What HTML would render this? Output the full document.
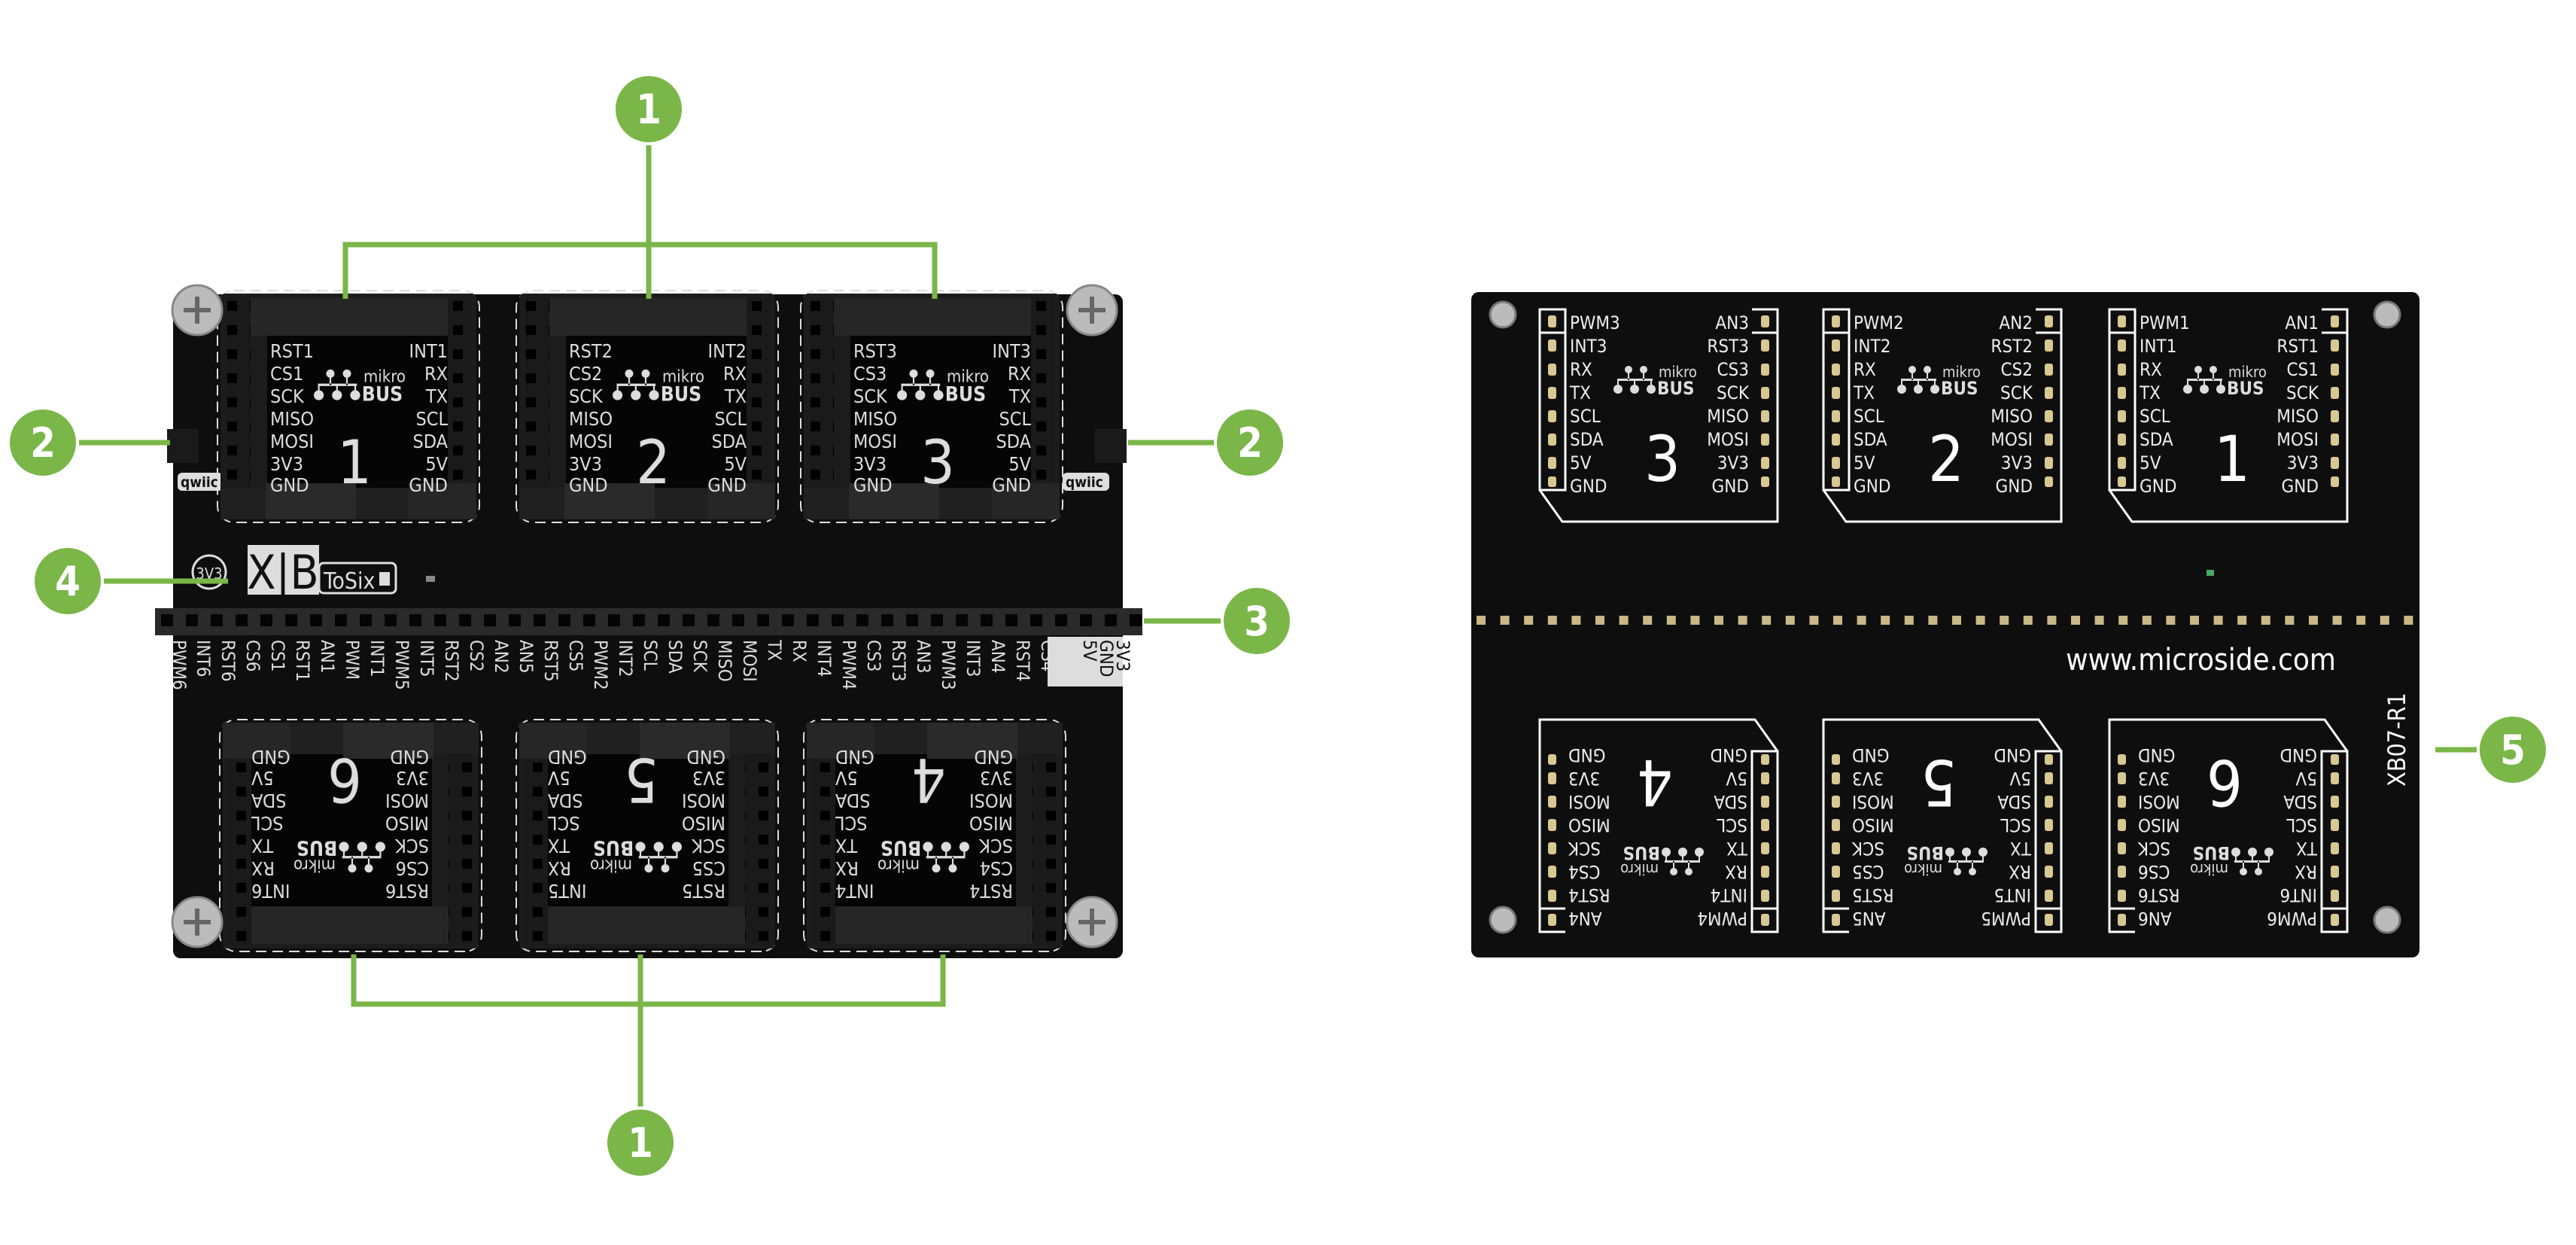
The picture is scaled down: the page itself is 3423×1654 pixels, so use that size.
<!DOCTYPE html>
<html><head><meta charset="utf-8"><style>
html,body{margin:0;padding:0;background:#fff;}
svg{display:block}
text{font-family:"DejaVu Sans Condensed","Liberation Sans Narrow","Liberation Sans",sans-serif;}
</style></head><body>
<svg width="3423" height="1654" viewBox="0 0 3423 1654" xmlns="http://www.w3.org/2000/svg">
<defs>
<pattern id="pinsL" x="0" y="0" width="30" height="32" patternUnits="userSpaceOnUse">
<rect width="30" height="32" fill="#1a1a1a"/><rect x="9" y="10" width="13" height="13" fill="#000"/>
</pattern>
<g id="sockBase">
<rect x="-4" y="-4" width="348" height="308" rx="22" fill="none" stroke="#ddd" stroke-width="2" stroke-dasharray="14 8"/>
<rect x="0" y="0" width="340" height="300" rx="6" fill="#1c1c1c"/>
<rect x="8" y="4" width="32" height="256" fill="url(#pinsL)"/>
<rect x="302" y="4" width="32" height="256" fill="url(#pinsL)"/>
<rect x="40" y="6" width="262" height="50" fill="#262626"/>
<rect x="62" y="56" width="240" height="210" fill="#050505"/>
<rect x="0" y="258" width="340" height="42" fill="#202020"/>
<rect x="60" y="252" width="120" height="48" fill="#2a2a2a"/>
<rect x="250" y="252" width="90" height="48" fill="#262626"/>
</g>
<g id="logo" fill="#ddd">
<circle cx="20" cy="4" r="5"/><circle cx="40" cy="4" r="5"/>
<circle cx="6" cy="30" r="6"/><circle cx="28" cy="30" r="6"/><circle cx="50" cy="30" r="6"/>
<path d="M19 4v14h2V4zM39 4v14h2V4zM5 16h47v3H5zM5 16h2v14H5zM27 16h2v14h-2zM49 16h2v14h-2z"/>
<text x="60" y="14" font-family="Liberation Sans,sans-serif" font-size="20" fill="#ddd">mikro</text>
<text x="58" y="37" font-family="Liberation Sans,sans-serif" font-size="24" font-weight="bold" fill="#ddd">BUS</text>
</g>
<g id="modOutline">
<path d="M0 0H34V240H0Z M282 0H316V282H30L0 240" fill="none" stroke="#fff" stroke-width="3"/>
<line x1="0" y1="31" x2="34" y2="31" stroke="#fff" stroke-width="3"/>
<line x1="282" y1="31" x2="316" y2="31" stroke="#fff" stroke-width="3"/>
<g fill="#d8c892">
<rect x="11" y="8" width="11" height="16" rx="3"/><rect x="11" y="40" width="11" height="16" rx="3"/><rect x="11" y="72" width="11" height="16" rx="3"/><rect x="11" y="103" width="11" height="16" rx="3"/><rect x="11" y="134" width="11" height="16" rx="3"/><rect x="11" y="165" width="11" height="16" rx="3"/><rect x="11" y="196" width="11" height="16" rx="3"/><rect x="11" y="222" width="11" height="14" rx="3"/>
<rect x="294" y="8" width="11" height="16" rx="3"/><rect x="294" y="40" width="11" height="16" rx="3"/><rect x="294" y="72" width="11" height="16" rx="3"/><rect x="294" y="103" width="11" height="16" rx="3"/><rect x="294" y="134" width="11" height="16" rx="3"/><rect x="294" y="165" width="11" height="16" rx="3"/><rect x="294" y="196" width="11" height="16" rx="3"/><rect x="294" y="222" width="11" height="14" rx="3"/>
</g>
</g>
</defs>

<rect x="230" y="391" width="1262" height="882" rx="10" fill="#0e0e0e"/>
<rect x="222" y="570" width="42" height="45" fill="#1a1a1a"/><rect x="236" y="628" width="60" height="24" rx="6" fill="#ddd"/>
<text x="240" y="647" font-size="19" font-weight="bold" fill="#111">qwiic</text>
<rect x="1455" y="570" width="42" height="45" fill="#1a1a1a"/><rect x="1412" y="628" width="62" height="24" rx="6" fill="#ddd"/>
<text x="1416" y="647" font-size="19" font-weight="bold" fill="#111">qwiic</text>

<g transform="translate(293,390)"><use href="#sockBase"/>
<g font-size="25" fill="#ddd"><text x="66" y="85">RST1</text><text x="66" y="115">CS1</text><text x="66" y="145">SCK</text><text x="66" y="175">MISO</text><text x="66" y="205">MOSI</text><text x="66" y="235">3V3</text><text x="66" y="263">GND</text>
<g text-anchor="end"><text x="302" y="85">INT1</text><text x="302" y="115">RX</text><text x="302" y="145">TX</text><text x="302" y="175">SCL</text><text x="302" y="205">SDA</text><text x="302" y="235">5V</text><text x="302" y="263">GND</text></g></g>
<use href="#logo" transform="translate(124,102) scale(1.1)"/><text x="178" y="252" font-size="80" fill="#ddd" text-anchor="middle">1</text></g>

<g transform="translate(690,390)"><use href="#sockBase"/>
<g font-size="25" fill="#ddd"><text x="66" y="85">RST2</text><text x="66" y="115">CS2</text><text x="66" y="145">SCK</text><text x="66" y="175">MISO</text><text x="66" y="205">MOSI</text><text x="66" y="235">3V3</text><text x="66" y="263">GND</text>
<g text-anchor="end"><text x="302" y="85">INT2</text><text x="302" y="115">RX</text><text x="302" y="145">TX</text><text x="302" y="175">SCL</text><text x="302" y="205">SDA</text><text x="302" y="235">5V</text><text x="302" y="263">GND</text></g></g>
<use href="#logo" transform="translate(124,102) scale(1.1)"/><text x="178" y="252" font-size="80" fill="#ddd" text-anchor="middle">2</text></g>

<g transform="translate(1068,390)"><use href="#sockBase"/>
<g font-size="25" fill="#ddd"><text x="66" y="85">RST3</text><text x="66" y="115">CS3</text><text x="66" y="145">SCK</text><text x="66" y="175">MISO</text><text x="66" y="205">MOSI</text><text x="66" y="235">3V3</text><text x="66" y="263">GND</text>
<g text-anchor="end"><text x="302" y="85">INT3</text><text x="302" y="115">RX</text><text x="302" y="145">TX</text><text x="302" y="175">SCL</text><text x="302" y="205">SDA</text><text x="302" y="235">5V</text><text x="302" y="263">GND</text></g></g>
<use href="#logo" transform="translate(124,102) scale(1.1)"/><text x="178" y="252" font-size="80" fill="#ddd" text-anchor="middle">3</text></g>

<g transform="translate(296,960) rotate(180 170 150)"><use href="#sockBase"/>
<g font-size="25" fill="#ddd"><text x="66" y="85">RST6</text><text x="66" y="115">CS6</text><text x="66" y="145">SCK</text><text x="66" y="175">MISO</text><text x="66" y="205">MOSI</text><text x="66" y="235">3V3</text><text x="66" y="263">GND</text>
<g text-anchor="end"><text x="302" y="85">INT6</text><text x="302" y="115">RX</text><text x="302" y="145">TX</text><text x="302" y="175">SCL</text><text x="302" y="205">SDA</text><text x="302" y="235">5V</text><text x="302" y="263">GND</text></g></g>
<use href="#logo" transform="translate(124,102) scale(1.1)"/><text x="178" y="252" font-size="80" fill="#ddd" text-anchor="middle">6</text></g>

<g transform="translate(690,960) rotate(180 170 150)"><use href="#sockBase"/>
<g font-size="25" fill="#ddd"><text x="66" y="85">RST5</text><text x="66" y="115">CS5</text><text x="66" y="145">SCK</text><text x="66" y="175">MISO</text><text x="66" y="205">MOSI</text><text x="66" y="235">3V3</text><text x="66" y="263">GND</text>
<g text-anchor="end"><text x="302" y="85">INT5</text><text x="302" y="115">RX</text><text x="302" y="145">TX</text><text x="302" y="175">SCL</text><text x="302" y="205">SDA</text><text x="302" y="235">5V</text><text x="302" y="263">GND</text></g></g>
<use href="#logo" transform="translate(124,102) scale(1.1)"/><text x="178" y="252" font-size="80" fill="#ddd" text-anchor="middle">5</text></g>

<g transform="translate(1072,960) rotate(180 170 150)"><use href="#sockBase"/>
<g font-size="25" fill="#ddd"><text x="66" y="85">RST4</text><text x="66" y="115">CS4</text><text x="66" y="145">SCK</text><text x="66" y="175">MISO</text><text x="66" y="205">MOSI</text><text x="66" y="235">3V3</text><text x="66" y="263">GND</text>
<g text-anchor="end"><text x="302" y="85">INT4</text><text x="302" y="115">RX</text><text x="302" y="145">TX</text><text x="302" y="175">SCL</text><text x="302" y="205">SDA</text><text x="302" y="235">5V</text><text x="302" y="263">GND</text></g></g>
<use href="#logo" transform="translate(124,102) scale(1.1)"/><text x="178" y="252" font-size="80" fill="#ddd" text-anchor="middle">4</text></g>

<g fill="#bbb" stroke="#888" stroke-width="3">
<circle cx="262" cy="412" r="33"/><circle cx="1451" cy="412" r="33"/><circle cx="262" cy="1225" r="33"/><circle cx="1451" cy="1225" r="33"/></g>
<g stroke="#666" stroke-width="6">
<path d="M244 412h36M262 394v36M1433 412h36M1451 394v36M244 1225h36M262 1207v36M1433 1225h36M1451 1207v36"/></g>

<circle cx="278" cy="760" r="22" fill="none" stroke="#ddd" stroke-width="3"/>
<text x="278" y="769" font-size="20" fill="#ddd" text-anchor="middle">3V3</text>
<rect x="329" y="724" width="95" height="66" fill="#ddd"/>
<text x="376" y="782" font-size="62" fill="#111" text-anchor="middle">X|B</text>
<rect x="424" y="748" width="102" height="40" rx="6" fill="none" stroke="#ddd" stroke-width="3"/>
<text x="430" y="782" font-size="30" fill="#ddd">ToSix</text><rect x="504" y="760" width="14" height="18" fill="#ddd"/>
<rect x="566" y="765" width="12" height="8" fill="#888"/>

<rect x="206" y="808" width="1312" height="36" fill="#2a2a2a"/>
<g fill="#050505">
<rect x="214" y="816" width="16" height="16"/><rect x="247" y="816" width="16" height="16"/><rect x="280" y="816" width="16" height="16"/><rect x="313" y="816" width="16" height="16"/><rect x="346" y="816" width="16" height="16"/><rect x="379" y="816" width="16" height="16"/><rect x="412" y="816" width="16" height="16"/><rect x="445" y="816" width="16" height="16"/><rect x="478" y="816" width="16" height="16"/><rect x="511" y="816" width="16" height="16"/><rect x="544" y="816" width="16" height="16"/><rect x="577" y="816" width="16" height="16"/><rect x="610" y="816" width="16" height="16"/><rect x="643" y="816" width="16" height="16"/><rect x="676" y="816" width="16" height="16"/><rect x="709" y="816" width="16" height="16"/><rect x="742" y="816" width="16" height="16"/><rect x="775" y="816" width="16" height="16"/><rect x="808" y="816" width="16" height="16"/><rect x="841" y="816" width="16" height="16"/><rect x="874" y="816" width="16" height="16"/><rect x="907" y="816" width="16" height="16"/><rect x="940" y="816" width="16" height="16"/><rect x="973" y="816" width="16" height="16"/><rect x="1006" y="816" width="16" height="16"/><rect x="1039" y="816" width="16" height="16"/><rect x="1072" y="816" width="16" height="16"/><rect x="1105" y="816" width="16" height="16"/><rect x="1138" y="816" width="16" height="16"/><rect x="1171" y="816" width="16" height="16"/><rect x="1204" y="816" width="16" height="16"/><rect x="1237" y="816" width="16" height="16"/><rect x="1270" y="816" width="16" height="16"/><rect x="1303" y="816" width="16" height="16"/><rect x="1336" y="816" width="16" height="16"/><rect x="1369" y="816" width="16" height="16"/><rect x="1402" y="816" width="16" height="16"/><rect x="1435" y="816" width="16" height="16"/><rect x="1468" y="816" width="16" height="16"/><rect x="1501" y="816" width="16" height="16"/></g>
<rect x="1392" y="846" width="100" height="66" fill="#ddd"/>
<g font-size="24" fill="#ddd">
<text transform="translate(230,850) rotate(90)">PWM6</text><text transform="translate(262,850) rotate(90)">INT6</text><text transform="translate(295,850) rotate(90)">RST6</text><text transform="translate(328,850) rotate(90)">CS6</text><text transform="translate(361,850) rotate(90)">CS1</text><text transform="translate(394,850) rotate(90)">RST1</text><text transform="translate(427,850) rotate(90)">AN1</text><text transform="translate(460,850) rotate(90)">PWM</text><text transform="translate(493,850) rotate(90)">INT1</text><text transform="translate(526,850) rotate(90)">PWM5</text><text transform="translate(559,850) rotate(90)">INT5</text><text transform="translate(592,850) rotate(90)">RST2</text><text transform="translate(625,850) rotate(90)">CS2</text><text transform="translate(658,850) rotate(90)">AN2</text><text transform="translate(691,850) rotate(90)">AN5</text><text transform="translate(724,850) rotate(90)">RST5</text><text transform="translate(757,850) rotate(90)">CS5</text><text transform="translate(790,850) rotate(90)">PWM2</text><text transform="translate(823,850) rotate(90)">INT2</text><text transform="translate(856,850) rotate(90)">SCL</text><text transform="translate(889,850) rotate(90)">SDA</text><text transform="translate(922,850) rotate(90)">SCK</text><text transform="translate(955,850) rotate(90)">MISO</text><text transform="translate(988,850) rotate(90)">MOSI</text><text transform="translate(1021,850) rotate(90)">TX</text><text transform="translate(1054,850) rotate(90)">RX</text><text transform="translate(1087,850) rotate(90)">INT4</text><text transform="translate(1120,850) rotate(90)">PWM4</text><text transform="translate(1153,850) rotate(90)">CS3</text><text transform="translate(1186,850) rotate(90)">RST3</text><text transform="translate(1219,850) rotate(90)">AN3</text><text transform="translate(1252,850) rotate(90)">PWM3</text><text transform="translate(1285,850) rotate(90)">INT3</text><text transform="translate(1318,850) rotate(90)">AN4</text><text transform="translate(1351,850) rotate(90)">RST4</text><text transform="translate(1384,850) rotate(90)">CS4</text><text transform="translate(1417,850) rotate(90)">AN6</text></g>
<g font-size="24" fill="#111"><text transform="translate(1440,850) rotate(90)">5V</text><text transform="translate(1462,850) rotate(90)">GND</text><text transform="translate(1484,850) rotate(90)">3V3</text></g>

<rect x="1955" y="388" width="1260" height="884" rx="10" fill="#0e0e0e"/>
<g fill="#bbb" stroke="#777" stroke-width="3">
<circle cx="1997" cy="418" r="17"/><circle cx="3172" cy="418" r="17"/><circle cx="1997" cy="1222" r="17"/><circle cx="3172" cy="1222" r="17"/></g>

<g transform="translate(2046,411)"><use href="#modOutline"/>
<g font-size="24" fill="#eee"><text x="40" y="26">PWM3</text><text x="40" y="57">INT3</text><text x="40" y="88">RX</text><text x="40" y="119">TX</text><text x="40" y="150">SCL</text><text x="40" y="181">SDA</text><text x="40" y="212">5V</text><text x="40" y="243">GND</text>
<g text-anchor="end"><text x="278" y="26">AN3</text><text x="278" y="57">RST3</text><text x="278" y="88">CS3</text><text x="278" y="119">SCK</text><text x="278" y="150">MISO</text><text x="278" y="181">MOSI</text><text x="278" y="212">3V3</text><text x="278" y="243">GND</text></g></g>
<use href="#logo" transform="translate(98,76) scale(1.0)"/><text x="163" y="228" font-size="84" fill="#fff" text-anchor="middle">3</text></g>

<g transform="translate(2423,411)"><use href="#modOutline"/>
<g font-size="24" fill="#eee"><text x="40" y="26">PWM2</text><text x="40" y="57">INT2</text><text x="40" y="88">RX</text><text x="40" y="119">TX</text><text x="40" y="150">SCL</text><text x="40" y="181">SDA</text><text x="40" y="212">5V</text><text x="40" y="243">GND</text>
<g text-anchor="end"><text x="278" y="26">AN2</text><text x="278" y="57">RST2</text><text x="278" y="88">CS2</text><text x="278" y="119">SCK</text><text x="278" y="150">MISO</text><text x="278" y="181">MOSI</text><text x="278" y="212">3V3</text><text x="278" y="243">GND</text></g></g>
<use href="#logo" transform="translate(98,76) scale(1.0)"/><text x="163" y="228" font-size="84" fill="#fff" text-anchor="middle">2</text></g>

<g transform="translate(2803,411)"><use href="#modOutline"/>
<g font-size="24" fill="#eee"><text x="40" y="26">PWM1</text><text x="40" y="57">INT1</text><text x="40" y="88">RX</text><text x="40" y="119">TX</text><text x="40" y="150">SCL</text><text x="40" y="181">SDA</text><text x="40" y="212">5V</text><text x="40" y="243">GND</text>
<g text-anchor="end"><text x="278" y="26">AN1</text><text x="278" y="57">RST1</text><text x="278" y="88">CS1</text><text x="278" y="119">SCK</text><text x="278" y="150">MISO</text><text x="278" y="181">MOSI</text><text x="278" y="212">3V3</text><text x="278" y="243">GND</text></g></g>
<use href="#logo" transform="translate(98,76) scale(1.0)"/><text x="163" y="228" font-size="84" fill="#fff" text-anchor="middle">1</text></g>

<g transform="translate(2046,956) rotate(180 158 141)"><use href="#modOutline"/>
<g font-size="24" fill="#eee"><text x="40" y="26">PWM4</text><text x="40" y="57">INT4</text><text x="40" y="88">RX</text><text x="40" y="119">TX</text><text x="40" y="150">SCL</text><text x="40" y="181">SDA</text><text x="40" y="212">5V</text><text x="40" y="243">GND</text>
<g text-anchor="end"><text x="278" y="26">AN4</text><text x="278" y="57">RST4</text><text x="278" y="88">CS4</text><text x="278" y="119">SCK</text><text x="278" y="150">MISO</text><text x="278" y="181">MOSI</text><text x="278" y="212">3V3</text><text x="278" y="243">GND</text></g></g>
<use href="#logo" transform="translate(98,76) scale(1.0)"/><text x="163" y="228" font-size="84" fill="#fff" text-anchor="middle">4</text></g>

<g transform="translate(2423,956) rotate(180 158 141)"><use href="#modOutline"/>
<g font-size="24" fill="#eee"><text x="40" y="26">PWM5</text><text x="40" y="57">INT5</text><text x="40" y="88">RX</text><text x="40" y="119">TX</text><text x="40" y="150">SCL</text><text x="40" y="181">SDA</text><text x="40" y="212">5V</text><text x="40" y="243">GND</text>
<g text-anchor="end"><text x="278" y="26">AN5</text><text x="278" y="57">RST5</text><text x="278" y="88">CS5</text><text x="278" y="119">SCK</text><text x="278" y="150">MISO</text><text x="278" y="181">MOSI</text><text x="278" y="212">3V3</text><text x="278" y="243">GND</text></g></g>
<use href="#logo" transform="translate(98,76) scale(1.0)"/><text x="163" y="228" font-size="84" fill="#fff" text-anchor="middle">5</text></g>

<g transform="translate(2803,956) rotate(180 158 141)"><use href="#modOutline"/>
<g font-size="24" fill="#eee"><text x="40" y="26">PWM6</text><text x="40" y="57">INT6</text><text x="40" y="88">RX</text><text x="40" y="119">TX</text><text x="40" y="150">SCL</text><text x="40" y="181">SDA</text><text x="40" y="212">5V</text><text x="40" y="243">GND</text>
<g text-anchor="end"><text x="278" y="26">AN6</text><text x="278" y="57">RST6</text><text x="278" y="88">CS6</text><text x="278" y="119">SCK</text><text x="278" y="150">MISO</text><text x="278" y="181">MOSI</text><text x="278" y="212">3V3</text><text x="278" y="243">GND</text></g></g>
<use href="#logo" transform="translate(98,76) scale(1.0)"/><text x="163" y="228" font-size="84" fill="#fff" text-anchor="middle">6</text></g>

<rect x="2932" y="757" width="10" height="8" fill="#4a6"/>
<line x1="1962" y1="824" x2="3210" y2="824" stroke="#c8b888" stroke-width="12" stroke-dasharray="12 19.6"/>
<text x="3104" y="890" font-size="40" fill="#fff" text-anchor="end">www.microside.com</text>
<text transform="translate(3196,1045) rotate(-90)" font-family="Liberation Sans,sans-serif" font-size="32" fill="#fff">XB07-R1</text>

<g stroke="#7ab648" stroke-width="7" fill="none">
<path d="M862 150V397M459 397V325H1242V397"/>
<path d="M851 1515V1268M470 1268V1334H1253V1268"/>
<path d="M60 588H226M1499 588H1660M90 772H303M1520 825H1670M3236 996H3339"/>
</g>
<g fill="#7ab648" stroke="#fff" stroke-width="4">
<circle cx="862" cy="145" r="46"/><circle cx="851" cy="1518" r="46"/><circle cx="57" cy="588" r="46"/><circle cx="1661" cy="588" r="46"/><circle cx="90" cy="772" r="46"/><circle cx="1670" cy="825" r="46"/><circle cx="3339" cy="996" r="46"/></g>
<g font-family="Liberation Sans,sans-serif" font-weight="bold" font-size="54" fill="#fff" text-anchor="middle">
<text x="862" y="164">1</text><text x="851" y="1537">1</text><text x="57" y="607">2</text><text x="1661" y="607">2</text><text x="90" y="791">4</text><text x="1670" y="844">3</text><text x="3339" y="1015">5</text></g>
</svg>
</body></html>
